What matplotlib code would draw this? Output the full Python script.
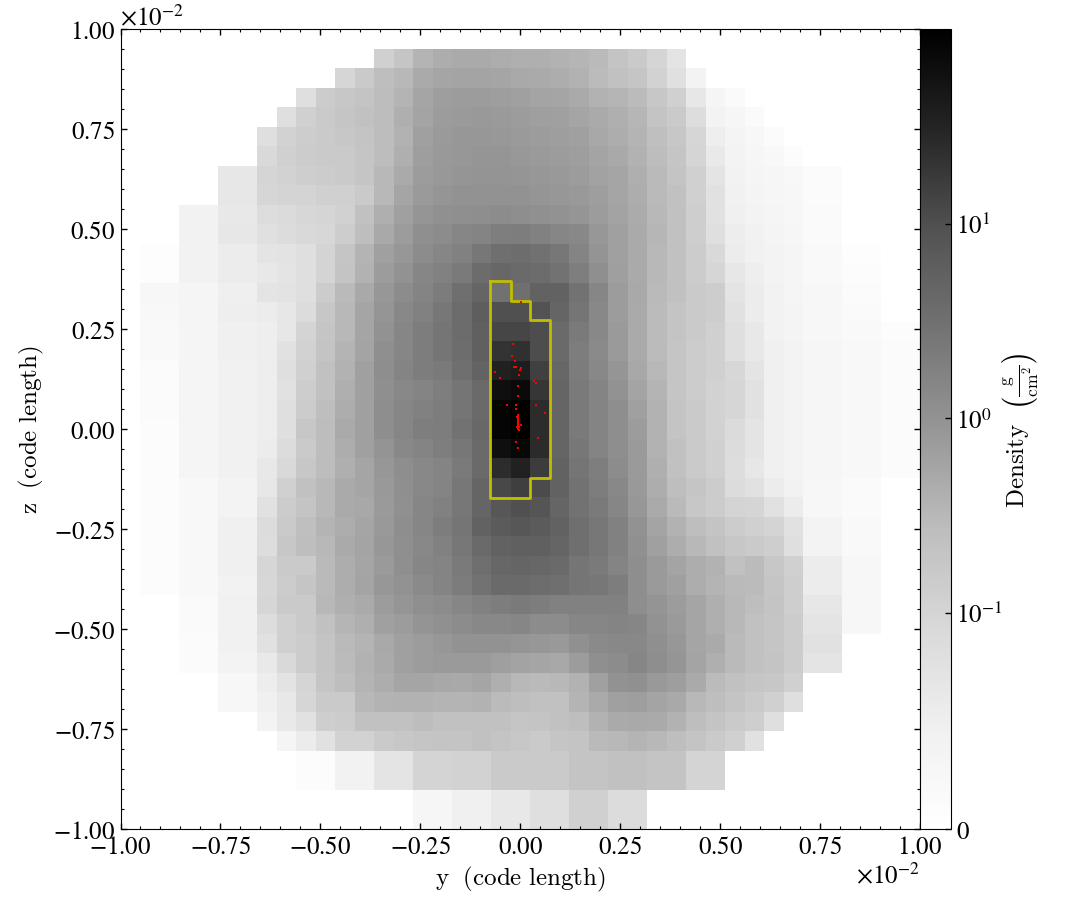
import numpy as np
import matplotlib
matplotlib.use("Agg")
import matplotlib.pyplot as plt
from matplotlib.colors import SymLogNorm
from matplotlib.ticker import MultipleLocator, ScalarFormatter, NullLocator

plt.rcParams['font.family'] = ['STIXGeneral', 'DejaVu Serif']
plt.rcParams['mathtext.fontset'] = 'stix'

# Density map, top row first; each row begins at column row_start[r]
row_start = [0, 13, 11, 9, 8, 7, 7, 5, 5, 3, 3, 1, 1, 1, 1, 1, 1, 1, 1, 1, 1, 1, 1, 1, 1,
             1, 1, 1, 1, 3, 3, 3, 3, 5, 5, 7, 8, 9, 9, 15, 15]
row_density = [
 [],
 [.0725,.091,.151,.2,.22,.22,.2,.182,.182,.17,.145,.125,.094,.084,.065,.039],
 [.0625,.083,.104,.136,.22,.264,.285,.285,.264,.24,.22,.2,.17,.116,.098,.091,.07,.046,.0174],
 [.048,.08,.087,.094,.112,.151,.264,.36,.383,.383,.36,.318,.285,.264,.22,.17,.145,.116,.087,.0725,.0363,.0145,.0073],
 [.048,.0725,.084,.09,.098,.112,.182,.285,.383,.415,.43,.415,.383,.345,.318,.264,.22,.182,.14,.094,.084,.051,.0174,.013,.0073],
 [.048,.07,.077,.083,.087,.094,.112,.17,.318,.415,.46,.46,.445,.415,.383,.36,.318,.245,.205,.151,.1,.087,.0625,.025,.016,.0116,.0058],
 [.058,.0725,.08,.084,.084,.091,.112,.182,.36,.43,.46,.5,.5,.445,.415,.383,.36,.285,.23,.17,.112,.09,.065,.032,.0174,.013,.0102,.0044],
 [.0363,.0363,.065,.07,.0755,.08,.084,.091,.136,.22,.383,.445,.5,.52,.52,.5,.46,.43,.383,.305,.264,.182,.125,.094,.0725,.039,.0189,.0145,.013,.0102,.0058,.0058],
 [.0363,.0363,.0625,.067,.068,.0725,.0725,.084,.136,.264,.415,.5,.555,.555,.555,.555,.5,.46,.43,.36,.264,.2,.125,.097,.0725,.0435,.0203,.016,.013,.0116,.0058,.0058],
 [.0189,.0189,.0334,.0334,.051,.055,.061,.065,.071,.098,.182,.318,.5,.6,.62,.67,.72,.67,.6,.555,.5,.383,.295,.21,.136,.097,.0755,.0435,.0218,.0174,.0145,.0116,.0073,.0073],
 [.0189,.0189,.0363,.0363,.046,.054,.058,.061,.077,.104,.24,.383,.62,.72,.87,.97,1.16,1.25,1.08,.9,.8,.46,.318,.22,.14,.097,.0755,.048,.026,.0203,.016,.013,.0073,.0073],
 [.003,.003,.0189,.0189,.0276,.0276,.039,.042,.048,.068,.091,.151,.318,.46,.72,.87,1.08,1.57,2.03,2.2,1.9,1.57,.97,.52,.318,.22,.136,.097,.08,.058,.029,.0203,.0174,.0145,.0087,.0087,.003,.003],
 [.003,.003,.0189,.0189,.0276,.0276,.0334,.039,.048,.068,.094,.17,.383,.555,.87,1.08,1.4,2.28,2.75,2.45,2.28,1.83,1.16,.62,.345,.22,.136,.097,.08,.0625,.0363,.025,.0174,.0145,.0087,.0087,.0044,.0044],
 [.0116,.0116,.0145,.0145,.023,.023,.039,.042,.048,.08,.125,.24,.46,.72,.97,1.3,2.03,2.95,1.9,2.03,3.3,3.3,1.83,.87,.383,.24,.125,.097,.084,.077,.04,.0276,.0189,.0145,.0116,.0116,.0058,.0058],
 [.0102,.0102,.0145,.0145,.025,.025,.0276,.0363,.054,.087,.136,.264,.5,.8,1.08,1.57,2.28,3.85,6.2,6.2,5.6,2.95,1.69,.8,.383,.22,.116,.094,.083,.077,.0435,.029,.0189,.016,.0116,.0116,.0073,.0073],
 [.0087,.0087,.0145,.0145,.0218,.0218,.025,.0363,.068,.091,.136,.264,.555,.87,1.25,1.69,2.28,3.55,9.1,9.1,7,2.45,1.4,.8,.415,.22,.116,.094,.083,.0725,.048,.0334,.0189,.016,.0116,.0116,.0087,.0087,.0044,.0044],
 [.0087,.0087,.0145,.0145,.0218,.0218,.025,.0435,.07,.094,.151,.285,.62,.9,1.25,1.69,2.2,3.55,17,19,7,2.45,1.25,.75,.415,.22,.116,.091,.08,.0725,.048,.0334,.0218,.0174,.013,.013,.0102,.0102,.0058,.0058],
 [.0058,.0058,.0145,.0145,.0203,.0203,.025,.048,.0725,.097,.17,.318,.67,.97,1.25,1.4,2.03,3.2,33,36,10.8,2.75,1.3,.8,.5,.245,.136,.091,.08,.0725,.061,.039,.0218,.0174,.013,.013,.0102,.0102,.0058,.0058],
 [.0058,.0058,.0145,.0145,.0203,.0203,.025,.045,.077,.097,.182,.318,.62,.8,.97,1.16,1.69,2.45,58,70,15.7,2.95,1.4,.97,.555,.285,.151,.091,.08,.07,.0625,.0435,.0218,.0174,.013,.013,.0102,.0102,.0058,.0058],
 [.0058,.0058,.0145,.0145,.0203,.0203,.025,.048,.08,.104,.2,.318,.67,.87,1.08,1.25,1.69,2.45,84,93,21.5,2.95,1.4,.97,.67,.318,.17,.094,.083,.07,.0625,.0435,.0218,.0174,.013,.013,.0102,.0102,.0058,.0058],
 [.0044,.0044,.0145,.0145,.0203,.0203,.025,.048,.087,.112,.22,.318,.67,.87,1.16,1.25,1.83,2.6,84,100,21.5,2.95,1.4,.97,.67,.383,.17,.094,.083,.07,.055,.039,.0218,.0174,.013,.013,.0102,.0102,.0058,.0058],
 [.0044,.0044,.0145,.0145,.0203,.0203,.0276,.054,.083,.112,.2,.318,.52,.8,.97,1.16,1.57,2.45,58,75,23,2.95,1.57,.97,.67,.415,.17,.097,.083,.0725,.054,.039,.0218,.0174,.013,.013,.0102,.0102,.0058,.0058],
 [.0044,.0044,.0145,.0145,.0203,.0203,.0334,.058,.087,.112,.182,.264,.46,.67,.8,.97,1.4,2.45,21.5,33,13,3.3,1.69,1.16,.72,.415,.182,.097,.084,.0725,.051,.0363,.0218,.0174,.013,.013,.0102,.0102,.0058,.0058],
 [.0044,.0044,.0102,.0102,.0174,.0174,.0363,.0725,.097,.136,.22,.264,.43,.62,.8,.97,1.57,2.95,8.1,11.7,7.5,3.3,1.83,1.25,.8,.43,.2,.104,.09,.08,.054,.0435,.029,.0189,.0116,.0116,.0073,.0073],
 [.0044,.0044,.0102,.0102,.0174,.0174,.0435,.08,.094,.136,.22,.245,.415,.6,.87,1.08,1.57,2.95,4.8,6.2,5.15,2.95,1.83,1.4,.87,.46,.22,.125,.087,.08,.068,.065,.0435,.029,.0116,.0116,.0073,.0073],
 [.0044,.0044,.0102,.0102,.0218,.0218,.054,.084,.1,.151,.2,.264,.43,.67,.9,1.25,1.69,3.3,4.3,4.8,4.3,3.3,2.03,1.57,1.08,.555,.285,.17,.104,.094,.08,.0725,.068,.0435,.0174,.0174,.0087,.0087],
 [.0044,.0044,.0102,.0102,.0218,.0218,.051,.087,.104,.136,.22,.285,.46,.62,.8,1.08,1.57,2.45,3.3,3.55,3.55,2.95,2.03,1.57,1.08,.6,.318,.2,.136,.098,.087,.083,.0755,.048,.0174,.0174,.0087,.0087],
 [.0044,.0044,.0102,.0102,.0218,.0218,.0625,.084,.084,.125,.2,.264,.415,.62,.87,.97,1.4,2.03,2.75,2.95,2.75,2.45,1.69,1.4,.97,.67,.415,.285,.2,.17,.097,.116,.087,.0725,.0276,.0276,.0116,.0116],
 [.0044,.0044,.0102,.0102,.0189,.0189,.061,.08,.091,.125,.2,.285,.46,.555,.75,.97,1.3,1.83,2.45,2.45,2.2,2.03,1.69,1.57,1.25,.67,.415,.318,.2,.151,.125,.116,.09,.0755,.0276,.0276,.0116,.0116],
 [.0073,.0073,.0203,.0203,.0625,.083,.084,.136,.182,.22,.383,.5,.62,.72,.87,1.08,1.25,1.4,1.25,1.08,1.08,1.08,1.08,.67,.52,.383,.264,.182,.136,.104,.094,.0755,.0363,.0363,.0116,.0116],
 [.0073,.0073,.0203,.0203,.051,.0725,.083,.098,.145,.182,.318,.383,.52,.6,.72,.8,.8,.87,.72,.72,.87,.87,.97,.9,.555,.415,.264,.182,.136,.098,.09,.08,.039,.039,.0116,.0116],
 [.0058,.0058,.0203,.0203,.0435,.0725,.08,.094,.125,.151,.24,.318,.383,.46,.555,.555,.555,.5,.46,.43,.6,.75,.8,.8,.62,.46,.264,.22,.125,.097,.09,.08,.0435,.0435],
 [.0058,.0058,.0174,.0174,.032,.058,.08,.094,.116,.17,.22,.318,.383,.415,.415,.415,.345,.295,.264,.245,.383,.62,.72,.87,.67,.5,.285,.182,.125,.098,.094,.08,.039,.039],
 [.0116,.0116,.026,.042,.065,.091,.104,.151,.2,.264,.264,.245,.24,.264,.182,.136,.125,.136,.17,.318,.555,.6,.43,.36,.22,.116,.098,.091,.087,.0725],
 [.0116,.0116,.0218,.0334,.0625,.083,.083,.136,.165,.17,.17,.151,.151,.17,.116,.104,.097,.098,.151,.22,.318,.36,.285,.24,.136,.104,.094,.083,.0725,.048],
 [.0174,.032,.045,.0755,.08,.097,.098,.098,.112,.098,.097,.097,.097,.091,.094,.097,.104,.17,.22,.24,.22,.17,.104,.094,.083,.0755,.048],
 [.0145,.029,.0435,.07,.07,.083,.087,.09,.094,.094,.097,.094,.087,.084,.09,.094,.125,.136,.151,.136,.104,.094,.084,.0725,.0435],
 [.0044,.0044,.0189,.0189,.039,.039,.068,.068,.07,.07,.083,.083,.084,.084,.094,.094,.097,.097,.094,.094,.068,.068],
 [.0044,.0044,.0189,.0189,.039,.039,.068,.068,.07,.07,.083,.083,.084,.084,.094,.094,.097,.097,.094,.094,.068,.068],
 [.013,.013,.0218,.0218,.0334,.0334,.048,.048,.0725,.0725,.054,.054],
 [.013,.013,.0218,.0218,.0334,.0334,.048,.048,.0725,.0725,.054,.054],
]

# Yellow outline, in units of 1e-2 code length
outline_y = [-.0765, -.0233, -.0233, .0243, .0243, .075, .075, .0243, .0243, -.0765, -.0765]
outline_z = [.369, .369, .319, .319, .2725, .2725, -.123, -.123, -.173, -.173, .369]

# Red particles, in units of 1e-2 code length
particle_y = [-.0174,-.0199,-.0124,-.0166,-.0099,.0026,-.0016,-.0642,-.0041,-.0508,.0343,.0384,-.0066,-.0066,
              -.0333,-.0108,.0393,.0626,-.0108,-.0058,-.0058,-.0091,-.0058,-.0058,-.0058,-.0058,-.0058,-.0058,
              -.0083,-.0041,.0018,-.0049,-.0041,.0443,-.0099,-.0058,.0009]
particle_z = [.2117,.1817,.1692,.1558,.1542,.1525,.1467,.1425,.135,.1275,.1192,.115,.1067,.0825,
              .0592,.0592,.0592,.0392,.0492,.0358,.0325,.03,.0267,.0233,.02,.0167,.0133,.01,
              .0058,.0042,.0092,0.,-.0033,-.0225,-.0317,-.0483,.3167]

n_cells = 41
density = np.zeros((n_cells, n_cells))
for r, (start, vals) in enumerate(zip(row_start, row_density)):
    density[r, start:start + len(vals)] = vals

norm = SymLogNorm(linthresh=0.1, linscale=1.0, vmin=0, vmax=100, base=10)
cmap = plt.get_cmap('Greys')

# The readings above were taken against a straight grey ramp; the reference's colorbar
# is the Greys ramp, so re-read them on that ramp.
ramp_p = np.linspace(0, 1, 1024)
ramp_level = cmap(ramp_p)[:, 0]
level = 1 - np.asarray(norm(density))
level = level + np.interp(level, [0, .235, .47, .745, .9, 1], [0, .02, .027, .02, 0, 0])
density = np.asarray(norm.inverse(np.interp(level, ramp_level[::-1], ramp_p[::-1])))
density[level >= 1] = 0

W, H = 1085, 920
fig = plt.figure(figsize=(W / 100, H / 100), dpi=100)
ax = fig.add_axes([120.5 / W, (H - 830) / H, 799.5 / W, 800 / H])
cax = fig.add_axes([920 / W, (H - 830) / H, 30.5 / W, 800 / H])

edges_y = np.linspace(-0.01, 0.01, n_cells + 1)
edges_z = np.linspace(0.01, -0.01, n_cells + 1)
mesh = ax.pcolormesh(edges_y, edges_z, density, cmap=cmap, norm=norm)

ax.plot(np.array(outline_y) * 1e-2, np.array(outline_z) * 1e-2, color='y', lw=2, solid_joinstyle='round')
ax.scatter(np.array(particle_y) * 1e-2, np.array(particle_z) * 1e-2, s=1.8, c='red', marker='s', linewidths=0, zorder=5)

ax.set_xlim(-0.01, 0.01)
ax.set_ylim(-0.01, 0.01)
for axis in (ax.xaxis, ax.yaxis):
    axis.set_major_locator(MultipleLocator(0.0025))
    axis.set_minor_locator(MultipleLocator(0.0005))
    fmt = ScalarFormatter(useMathText=True)
    fmt.set_powerlimits((0, 0))
    axis.set_major_formatter(fmt)
    axis.get_offset_text().set_fontsize(18)
ax.tick_params(which='major', direction='in', top=True, right=True, length=4, width=1, labelsize=18, pad=4)
ax.tick_params(which='minor', direction='in', top=True, right=True, length=2, width=0.8)
ax.set_xlabel(r'$\mathrm{y\ \ (code\ length)}$', fontsize=18, labelpad=4, math_fontfamily='cm')
ax.set_ylabel(r'$\mathrm{z\ \ (code\ length)}$', fontsize=18, labelpad=5, math_fontfamily='cm')

cb = fig.colorbar(mesh, cax=cax)
cb.set_ticks([0, 0.1, 1, 10])
cb.set_ticklabels(['$0$', r'$10^{-1}$', r'$10^{0}$', r'$10^{1}$'])
cax.yaxis.set_minor_locator(NullLocator())
cax.tick_params(which='major', direction='in', length=4, width=1, labelsize=18, pad=4)
cb.set_label(r'$\mathrm{Density}\ \ \left(\frac{\mathrm{g}}{\mathrm{cm}^{2}}\right)$', fontsize=18, labelpad=-2, math_fontfamily='cm')

fig.savefig('out.png', dpi=100)
